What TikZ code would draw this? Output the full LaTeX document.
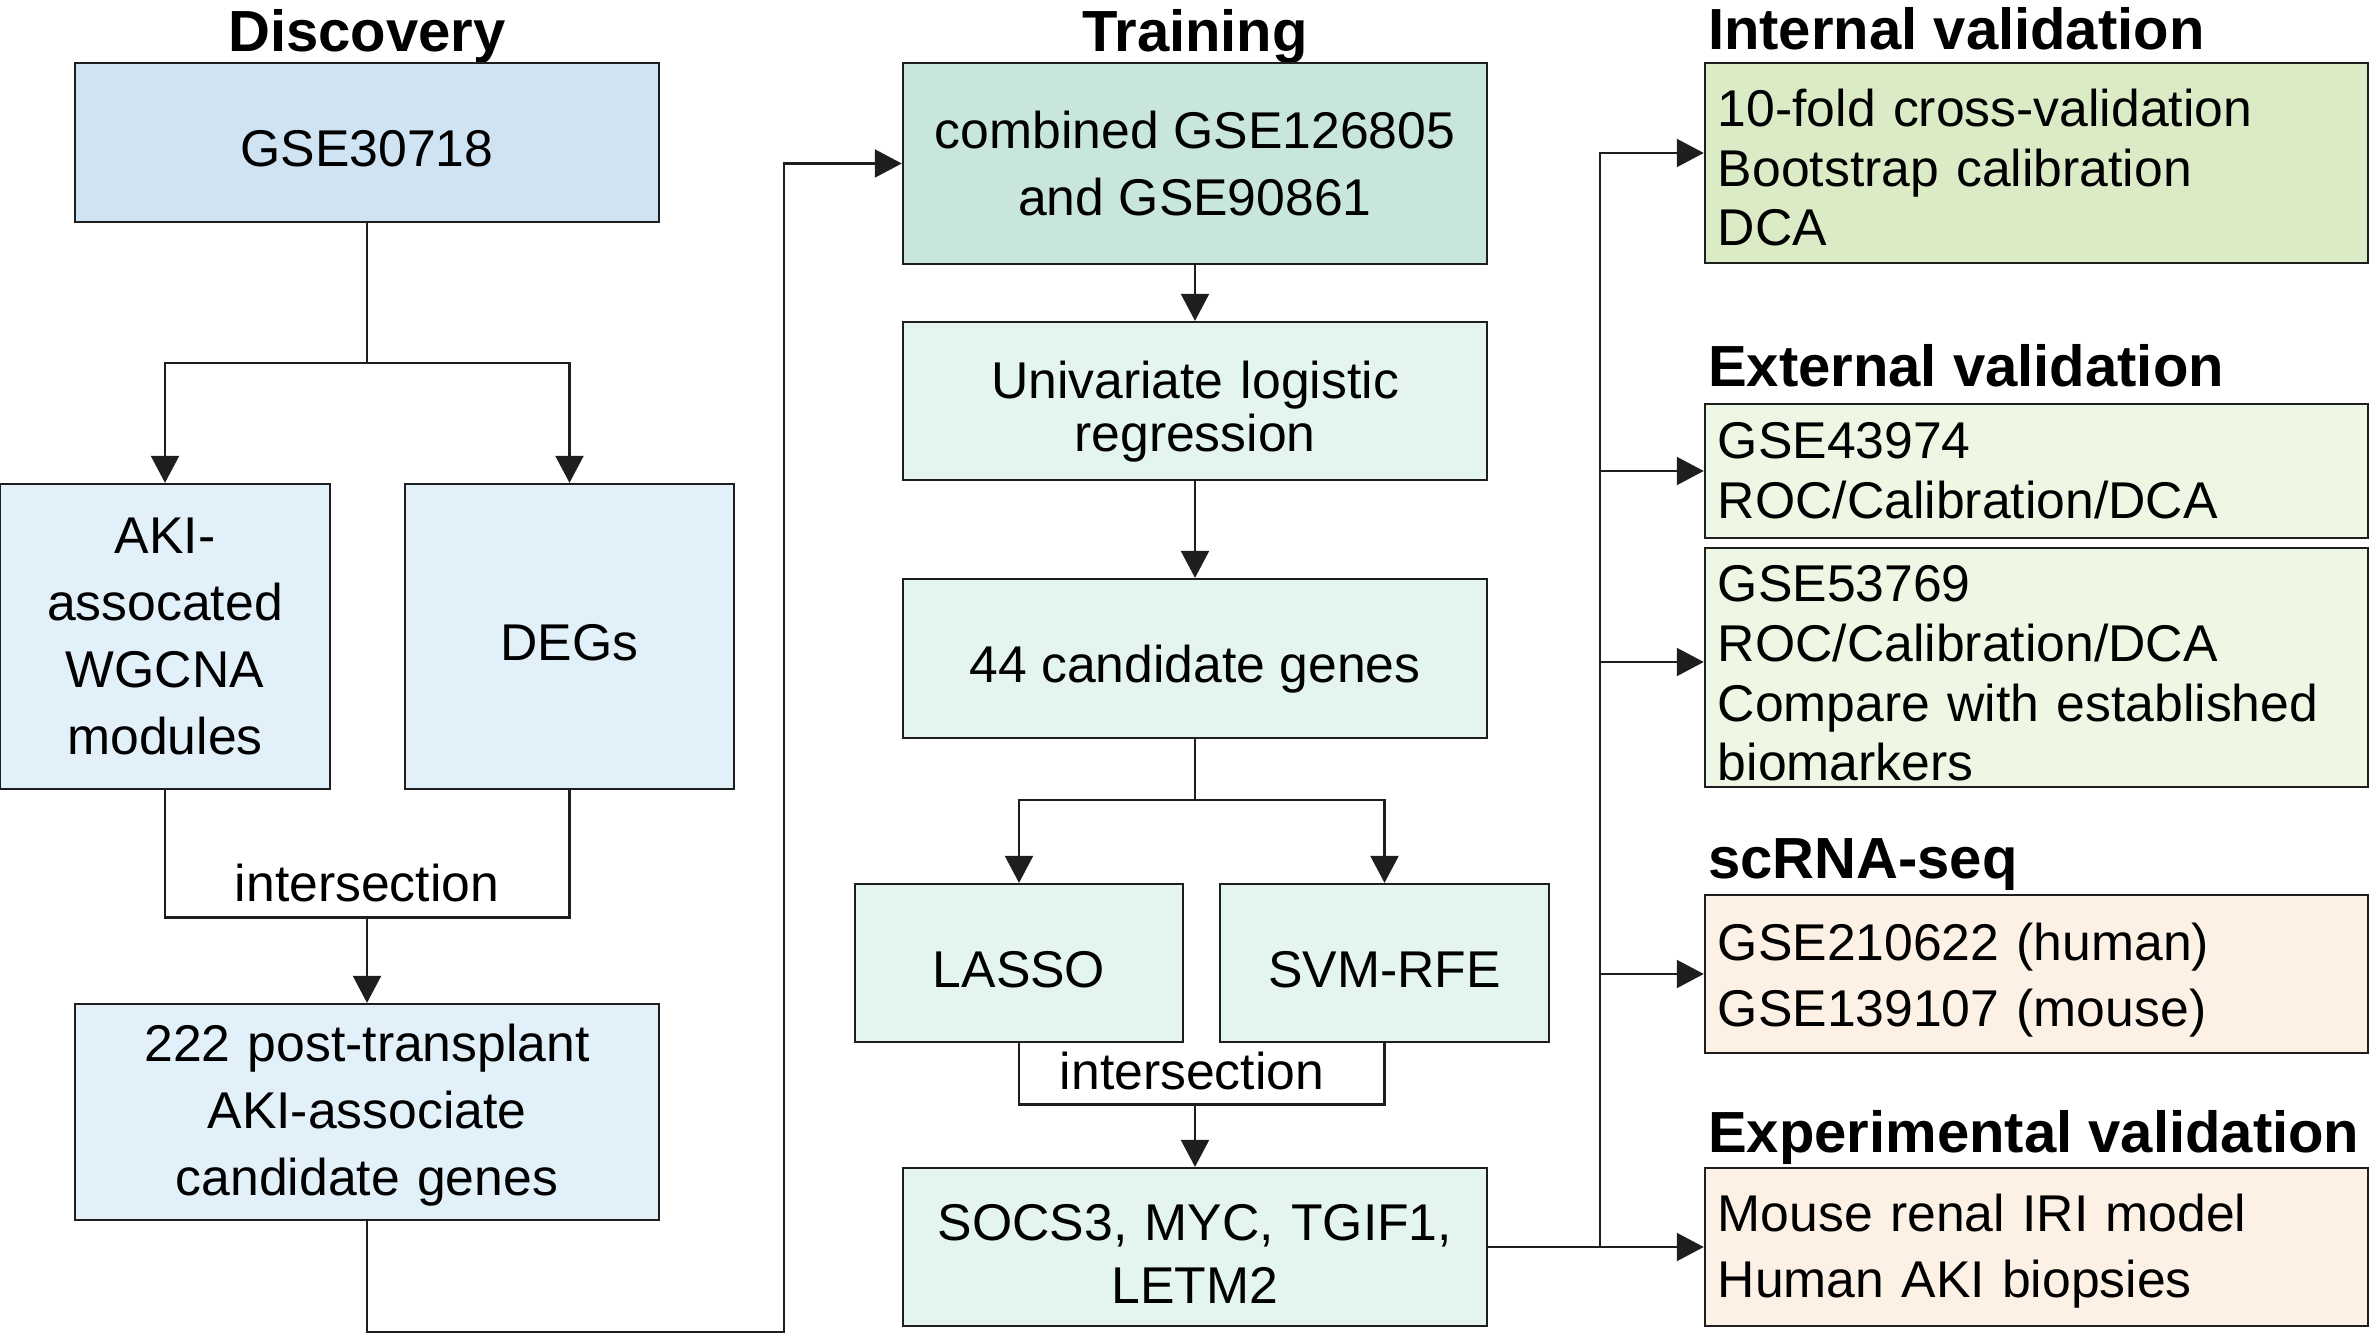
\documentclass[tikz,border=0pt]{standalone}
\usepackage{fontspec}
\setmainfont{Liberation Sans}
\usepackage{xcolor}
\usepackage{tikz}
\usetikzlibrary{arrows.meta,positioning,calc}
\definecolor{dscblue}{HTML}{CFE3F2}
\definecolor{dscpale}{HTML}{E2F0FA}
\definecolor{trnteal}{HTML}{C8E6DE}
\definecolor{trnpale}{HTML}{E3F4F1}
\definecolor{valgreen}{HTML}{DAEBC6}
\definecolor{valpale}{HTML}{EDF7E3}
\definecolor{expeach}{HTML}{FDF1E6}
\definecolor{edge}{HTML}{1E1E1E}

\begin{document}
\begin{tikzpicture}[x=0.01cm,y=-0.01cm,line width=0.6pt,draw=edge,
  blk/.style={draw=edge,inner sep=0pt,align=center,font=\fontsize{14.7}{19}\selectfont},
  one/.style={text height=17.6pt,text depth=3.7pt},
  sink/.style={execute at begin node={\rule{0pt}{#1}}},
  res/.style={draw=edge,inner ysep=0pt,inner xsep=1.3mm,text width=63.7mm,align=left,font=\fontsize{14.7}{17}\selectfont},
  ttl/.style={inner sep=0pt,font=\fontsize{16.5}{20}\selectfont\bfseries},
  lbl/.style={inner sep=0pt,font=\fontsize{14.7}{17}\selectfont},
  arr/.style={-{Triangle[length=2.7mm,width=2.8mm]}}]
  \useasboundingbox (0,0) rectangle (2370,1334);
  % discovery
  \node[ttl,anchor=base] (tdisc) at (367,52) {Discovery};
  \node[blk,one,fill=dscblue,minimum width=58.4mm,minimum height=15.9mm] (gse) at (367,142.5) {GSE30718};
  \node[blk,fill=dscpale,minimum width=32.9mm,minimum height=30.5mm] (aki) at (165,636.5) {AKI-\\assocated\\WGCNA\\modules};
  \node[blk,one,fill=dscpale,minimum width=32.9mm,minimum height=30.5mm] (degs) at (569.5,636.5) {DEGs};
  \node[blk,sink=12.4pt,fill=dscpale,text width=58.4mm,minimum height=21.6mm] (cand) at (367,1112) {222 post-transplant\\AKI-associate\\candidate genes};
  \coordinate (b1) at (367,363);
  \coordinate (j1) at (367,917.5);
  \coordinate (t1) at (784,1332);
  \node[lbl,anchor=base] (int1) at (367,901) {intersection};
  \draw[arr] (gse.south) -- (b1) -| (aki.north);
  \draw[arr] (b1) -| (degs.north);
  \draw (aki.south) |- (j1) -| (degs.south);
  \draw[arr] (j1) -- (cand.north);
  % training
  \node[ttl,anchor=base] (ttrn) at (1195,52) {Training};
  \node[blk,fill=trnteal,minimum width=58.4mm,minimum height=20.1mm] (comb) at (1195,163.5) {combined GSE126805\\and GSE90861};
  \node[blk,sink=16.7pt,fill=trnpale,text width=58.4mm,minimum height=15.8mm,font=\fontsize{14.7}{15.1}\selectfont] (uni) at (1195,401) {Univariate logistic\\regression};
  \node[blk,one,fill=trnpale,minimum width=58.4mm,minimum height=15.9mm] (c44) at (1195,658.5) {44 candidate genes};
  \node[blk,one,fill=trnpale,minimum width=32.8mm,minimum height=15.8mm] (lasso) at (1019,963) {LASSO};
  \node[blk,one,fill=trnpale,minimum width=32.9mm,minimum height=15.8mm] (svm) at (1384.5,963) {SVM-RFE};
  \node[blk,sink=14.1pt,fill=trnpale,text width=58.4mm,minimum height=15.8mm,font=\fontsize{14.7}{17.9}\selectfont] (genes) at (1195,1247) {SOCS3, MYC, TGIF1,\\LETM2};
  \coordinate (b2) at (1195,800);
  \coordinate (j2) at (1195,1104.5);
  \node[lbl,anchor=base] (int2) at (1192,1089) {intersection};
  \draw[arr] (cand.south) |- (t1) |- (comb.west);
  \draw[arr] (comb) -- (uni);
  \draw[arr] (uni) -- (c44);
  \draw[arr] (c44.south) -- (b2) -| (lasso.north);
  \draw[arr] (b2) -| (svm.north);
  \draw (lasso.south) |- (j2) -| (svm.south);
  \draw[arr] (j2) -- (genes.north);
  % validation
  \node[ttl,anchor=base west] (tint) at (1707,50) {Internal validation};
  \node[res,sink=13.3pt,fill=valgreen,minimum height=20mm] (intl) at (2036.5,163) {10-fold cross-validation\\Bootstrap calibration\\DCA};
  \node[ttl,anchor=base west] (text) at (1707,387) {External validation};
  \node[res,fill=valpale,minimum height=13.4mm] (ext1) at (2036.5,471) {GSE43974\\ROC/Calibration/DCA};
  \node[res,sink=13.6pt,fill=valpale,minimum height=23.9mm] (ext2) at (2036.5,667.5) {GSE53769\\ROC/Calibration/DCA\\Compare with established\\biomarkers};
  \node[ttl,anchor=base west] (tsc) at (1707,878.5) {scRNA-seq};
  \node[res,sink=14.1pt,fill=expeach,minimum height=15.85mm,font=\fontsize{14.7}{19}\selectfont] (scrna) at (2036.5,974) {GSE210622 (human)\\GSE139107 (mouse)};
  \node[ttl,anchor=base west] (texp) at (1707,1152) {Experimental validation};
  \node[res,sink=13pt,fill=expeach,minimum height=15.8mm,font=\fontsize{14.7}{18.5}\selectfont] (expv) at (2036.5,1247) {Mouse renal IRI model\\Human AKI biopsies};
  \coordinate (bus) at (1600,1247);
  \draw[arr] (genes.east) -- (expv.west);
  \draw[arr] (bus) |- ([yshift=1mm]intl.west);
  \draw[arr] (bus) |- (ext1.west);
  \draw[arr] (bus) |- ([yshift=0.55mm]ext2.west);
  \draw[arr] (bus) |- (scrna.west);
\end{tikzpicture}
\end{document}
